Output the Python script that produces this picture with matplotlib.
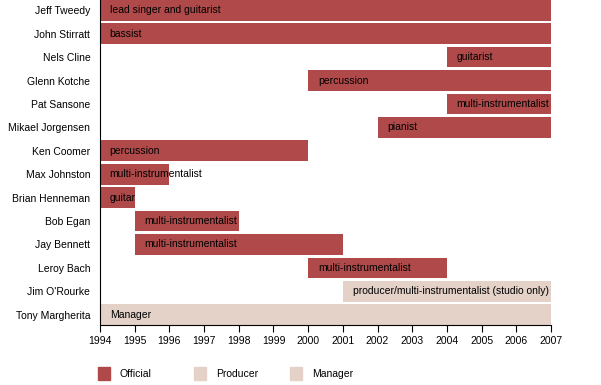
import matplotlib.pyplot as plt
from matplotlib.patches import Rectangle

plt.rcParams['font.family'] = ['Liberation Sans', 'DejaVu Sans']

# members, start, end, role text, kind
names = ['Jeff Tweedy', 'John Stirratt', 'Nels Cline', 'Glenn Kotche', 'Pat Sansone',
         'Mikael Jorgensen', 'Ken Coomer', 'Max Johnston', 'Brian Henneman', 'Bob Egan',
         'Jay Bennett', 'Leroy Bach', "Jim O'Rourke", 'Tony Margherita']
starts = [1994, 1994, 2004, 2000, 2004, 2002, 1994, 1994, 1994, 1995, 1995, 2000, 2001, 1994]
ends = [2007, 2007, 2007, 2007, 2007, 2007, 2000, 1996, 1995, 1998, 2001, 2004, 2007, 2007]
roles = ['lead singer and guitarist', 'bassist', 'guitarist', 'percussion',
         'multi-instrumentalist', 'pianist', 'percussion', 'multi-instrumentalist',
         'guitar', 'multi-instrumentalist', 'multi-instrumentalist',
         'multi-instrumentalist', 'producer/multi-instrumentalist (studio only)', 'Manager']
kinds = ['Official'] * 12 + ['Producer', 'Manager']

legend_kinds = ['Official', 'Producer', 'Manager']
colors = {'Official': '#b04a4a', 'Producer': '#e4d2c9', 'Manager': '#e4d2c9'}

fig = plt.figure(figsize=(6.01, 3.85), dpi=100)
ax = fig.add_axes([100 / 601, 60 / 385, 451 / 601, 325 / 385])

ypos = list(range(len(names)))
for y, s, e, r, k in zip(ypos, starts, ends, roles, kinds):
    ax.barh(y, e - s, left=s, height=0.88, color=colors[k])
    ax.text(s + 0.28, y, r, va='center', ha='left', fontsize=7.5, color='black')

ax.set_yticks(ypos)
ax.set_yticklabels(names, fontsize=7.5)
ax.tick_params(axis='y', length=0, pad=7)
ax.set_ylim(len(names) - 0.56, -0.44)
ax.set_xlim(1994, 2007)
ax.set_xticks(range(1994, 2008))
ax.tick_params(axis='x', labelsize=7.5, length=5, direction='out', pad=3)
ax.spines['top'].set_visible(False)
ax.spines['right'].set_visible(False)

# legend: equally spaced swatches under the axis
for i, k in enumerate(legend_kinds):
    x0 = 98 + i * 96
    fig.patches.append(Rectangle((x0 / 601, 5 / 385), 12 / 601, 13 / 385,
                                 transform=fig.transFigure, color=colors[k]))
    fig.text((x0 + 22) / 601, 11 / 385, k, fontsize=7.5, va='center', ha='left')

fig.savefig('out.png', dpi=100)
